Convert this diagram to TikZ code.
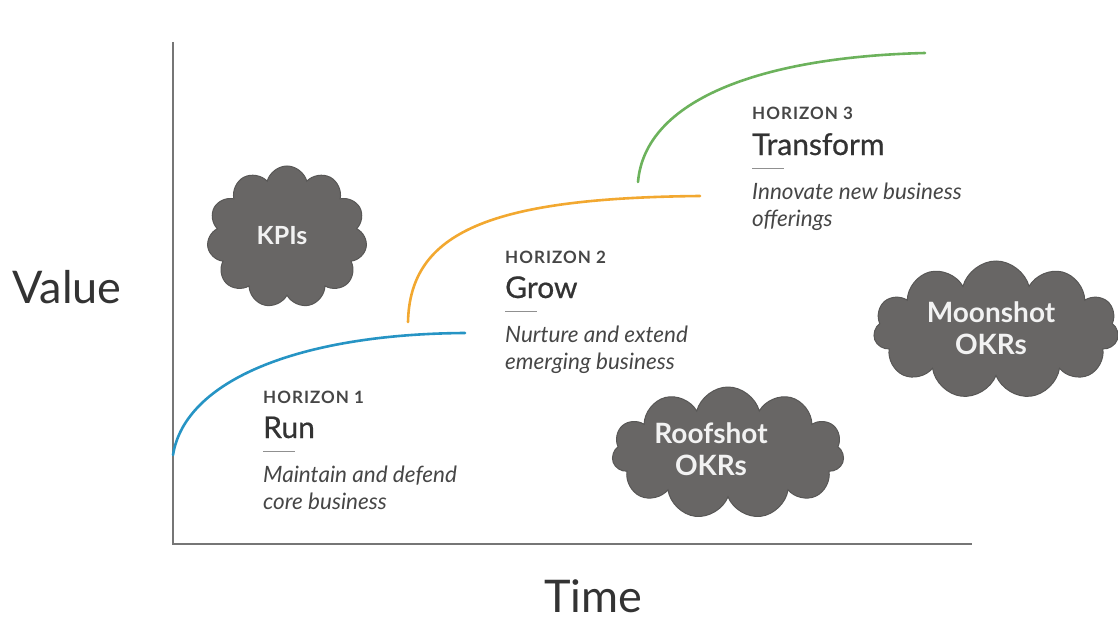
\documentclass[tikz,border=0pt]{standalone}
\usepackage{fontspec}
\setmainfont{Lato}
\usetikzlibrary{shapes.symbols}
\definecolor{axisgray}{RGB}{118,118,118}
\definecolor{cloudgray}{RGB}{104,102,101}
\definecolor{txtgray}{RGB}{70,70,70}
\definecolor{hblue}{RGB}{38,148,196}
\definecolor{horange}{RGB}{242,168,48}
\definecolor{hgreen}{RGB}{108,178,92}
\begin{document}
\begin{tikzpicture}[x=1pt,y=-1pt,
	okr/.style={cloud,cloud puffs=11,cloud ignores aspect,fill=cloudgray,draw=cloudgray!85!black,line width=1pt},
	okrtxt/.style={text=white!95!black,align=center,inner sep=0pt,font=\fontsize{28}{32}\selectfont\bfseries},
	hzn/.style={anchor=base west,inner sep=0pt,text=txtgray,font=\fontsize{17}{20}\selectfont\bfseries\addfontfeature{LetterSpace=6}},
	ttl/.style={anchor=base west,inner sep=0pt,text=black!80,font=\fontsize{30}{34}\selectfont\addfontfeature{FakeBold=0.6}},
	dsc/.style={anchor=base west,inner sep=0pt,text=txtgray,font=\fontsize{22.5}{26}\selectfont\itshape},
	axlbl/.style={inner sep=0pt,text=black!80,font=\fontsize{45}{50}\selectfont},
	curve/.style={line width=2.6pt,line cap=round}]
	\useasboundingbox (0,0) rectangle (1118,623);
	% axes
	\draw[axisgray,line width=2.4pt] (173,42)--(173,544)--(972,544);
	\node[axlbl,anchor=base] (value) at (67,303) {Value};
	\node[axlbl,anchor=base] (time) at (593,612) {Time};
	% the three horizons
	\draw[curve,hblue] (173,455) .. controls (185,380) and (300,334) .. (465,333);
	\draw[curve,horange] (408,322) .. controls (410,232) and (490,198) .. (700,196);
	\draw[curve,hgreen] (638,182) .. controls (645,100) and (760,57) .. (925,53);
	\foreach \n/\x/\y/\t/\a/\b in {1/263/403/Run/Maintain and defend/core business,
		2/505/263/Grow/Nurture and extend/emerging business,
		3/752/120/Transform/Innovate new business/offerings}{
		\node[hzn] (h\n) at (\x,\y) {HORIZON \n};
		\node[ttl] (t\n) at (\x,\y+35) {\t};
		\draw[txtgray!60,line width=1pt] (\x,\y+48)--(\x+32,\y+48);
		\node[dsc] (d\n) at (\x,\y+79) {\a};
		\node[dsc] (e\n) at (\x,\y+106) {\b};
	}
	% clouds
	\node[okr,minimum width=160pt,minimum height=142pt] (kpi) at (287,237) {};
	\node[okrtxt,font=\fontsize{25}{30}\selectfont\bfseries] (kpitxt) at (282,236) {KPIs};
	\node[okr,minimum width=232pt,minimum height=132pt] (roof) at (728,453) {};
	\node[okrtxt] (rooftxt) at (711,449) {Roofshot\\OKRs};
	\node[okr,minimum width=245pt,minimum height=138pt] (moon) at (996,330) {};
	\node[okrtxt] (moontxt) at (991,328) {Moonshot\\OKRs};
\end{tikzpicture}
\end{document}
